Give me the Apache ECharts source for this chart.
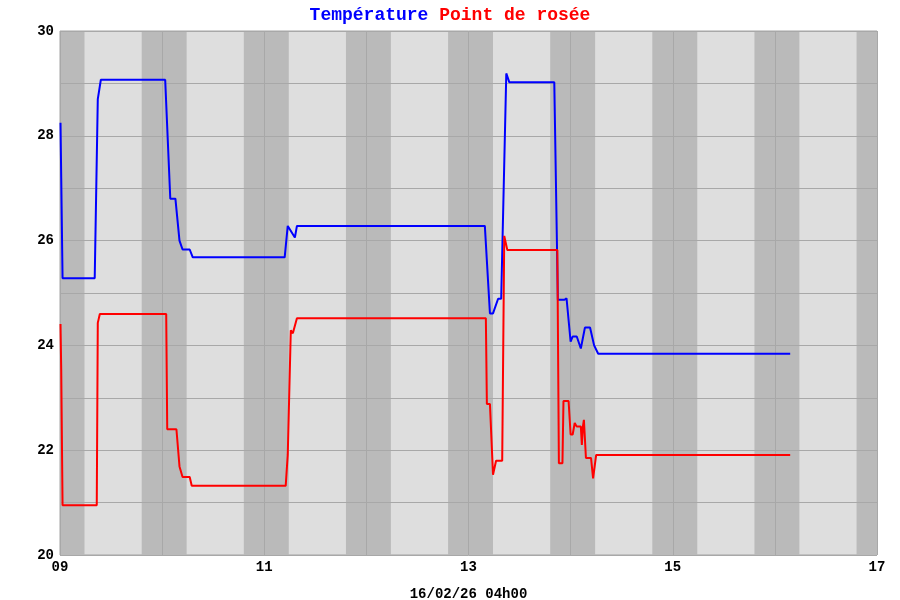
<!DOCTYPE html>
<html>
<head>
<meta charset="utf-8">
<script src="https://cdn.jsdelivr.net/npm/echarts@6/dist/echarts.min.js"></script>
<style>
  html, body { margin: 0; padding: 0; background: #fff; }
  #chart { width: 900px; height: 600px; }
</style>
</head>
<body>
<div id="chart"></div>
<script>
// heure decimale, valeur en degres
const tempTimes = [9.005, 9.012, 9.025, 9.34, 9.37, 9.4, 10.03, 10.08, 10.13, 10.17, 10.2, 10.27, 10.3,
  11.2, 11.23, 11.3, 11.32, 13.16, 13.21, 13.24, 13.29, 13.32, 13.37, 13.4, 13.84, 13.875, 13.94, 13.96,
  14.0, 14.02, 14.06, 14.1, 14.14, 14.19, 14.23, 14.27, 16.15];
const tempValues = [28.25, 27.2, 25.28, 25.28, 28.7, 29.07, 29.07, 26.8, 26.8, 26.0, 25.83, 25.83, 25.68,
  25.68, 26.28, 26.06, 26.28, 26.28, 24.61, 24.61, 24.89, 24.89, 29.19, 29.02, 29.02, 24.87, 24.87, 24.9,
  24.07, 24.17, 24.17, 23.94, 24.34, 24.34, 24.0, 23.84, 23.84];

const dewTimes = [9.005, 9.012, 9.025, 9.36, 9.37, 9.39, 10.04, 10.05, 10.14, 10.17, 10.2, 10.27, 10.29,
  11.21, 11.23, 11.26, 11.28, 11.32, 13.17, 13.18, 13.21, 13.24, 13.27, 13.33, 13.35, 13.38, 13.87, 13.885,
  13.92, 13.93, 13.98, 14.0, 14.02, 14.04, 14.06, 14.1, 14.11, 14.12, 14.13, 14.15, 14.2, 14.22, 14.23,
  14.25, 16.15];
const dewValues = [24.41, 23.53, 20.95, 20.95, 24.43, 24.6, 24.6, 22.4, 22.4, 21.69, 21.49, 21.49, 21.32,
  21.32, 21.91, 24.29, 24.23, 24.52, 24.52, 22.88, 22.88, 21.53, 21.8, 21.8, 26.09, 25.82, 25.82, 21.75,
  21.75, 22.94, 22.94, 22.3, 22.3, 22.52, 22.45, 22.45, 22.1, 22.45, 22.58, 21.85, 21.85, 21.46, 21.46,
  21.91, 21.91];

// bandes sombres
const bandStarts = [9.0, 9.8, 10.8, 11.8, 12.8, 13.8, 14.8, 15.8, 16.8];
const bandEnds = [9.24, 10.24, 11.24, 12.24, 13.24, 14.24, 15.24, 16.24, 17.0];

const xLabel = '16/02/26 04h00';
const monoFont = '"Liberation Mono", "DejaVu Sans Mono", monospace';

const pairs = (xs, ys) => xs.map((x, i) => [x, ys[i]]);

const chart = echarts.init(document.getElementById('chart'));
const option = {
  animation: false,
  title: {
    text: '{a|Température }{b|Point de rosée}',
    left: 'center',
    top: 1,
    textStyle: {
      rich: {
        a: { color: '#0000ff', fontFamily: monoFont, fontWeight: 'bold', fontSize: 18 },
        b: { color: '#ff0000', fontFamily: monoFont, fontWeight: 'bold', fontSize: 18 },
      },
    },
  },
  grid: {
    left: 60,
    right: 23,
    top: 31,
    bottom: 45,
    outerBoundsMode: 'none',
    containLabel: false,
    show: true,
    backgroundColor: '#dedede',
    borderColor: '#a4a4a4',
    borderWidth: 1,
    z: 0,
  },
  xAxis: {
    type: 'value',
    min: 9,
    max: 17,
    interval: 1,
    z: 2,
    name: xLabel,
    nameLocation: 'middle',
    nameGap: 32,
    nameTextStyle: { color: '#000', fontFamily: monoFont, fontWeight: 'bold', fontSize: 14 },
    axisLine: { show: false },
    axisTick: { show: false },
    axisLabel: {
      color: '#000',
      fontFamily: monoFont,
      fontWeight: 'bold',
      fontSize: 14,
      margin: 5,
      formatter: (v) => (v % 2 === 1 ? String(v).padStart(2, '0') : ''),
    },
    splitLine: { show: true, lineStyle: { color: '#a8a8a8', width: 1 } },
  },
  yAxis: {
    type: 'value',
    min: 20,
    max: 30,
    interval: 1,
    z: 2,
    axisLine: { show: false },
    axisTick: { show: false },
    axisLabel: {
      color: '#000',
      fontFamily: monoFont,
      fontWeight: 'bold',
      fontSize: 14,
      margin: 6,
      formatter: (v) => (v % 2 === 0 ? String(v) : ''),
    },
    splitLine: { show: true, lineStyle: { color: '#a8a8a8', width: 1 } },
  },
  series: [
    {
      name: 'bandes',
      type: 'line',
      data: [],
      z: 1,
      silent: true,
      markArea: {
        silent: true,
        itemStyle: { color: '#bababa' },
        data: bandStarts.map((s, i) => [{ xAxis: s }, { xAxis: bandEnds[i] }]),
      },
    },
    {
      name: 'Température',
      type: 'line',
      data: pairs(tempTimes, tempValues),
      showSymbol: false,
      z: 3,
      lineStyle: { color: '#0000ff', width: 2 },
      itemStyle: { color: '#0000ff' },
    },
    {
      name: 'Point de rosée',
      type: 'line',
      data: pairs(dewTimes, dewValues),
      showSymbol: false,
      z: 3,
      lineStyle: { color: '#ff0000', width: 2 },
      itemStyle: { color: '#ff0000' },
    },
  ],
};
chart.setOption(option);
</script>
</body>
</html>
